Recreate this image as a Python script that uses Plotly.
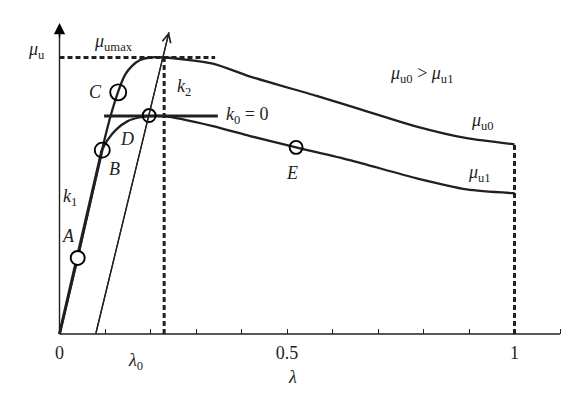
import plotly.graph_objects as go

# ---- data (lambda, mu) ----
upper_lam = [0, 0.040, 0.0934, 0.111, 0.1286, 0.144, 0.159, 0.177, 0.199, 0.230, 0.337, 0.419, 0.565, 0.660, 0.785, 0.895, 1.0]
upper_mu = [0, 0.275, 0.665, 0.781, 0.875, 0.937, 0.969, 0.991, 1.0, 1.0, 0.978, 0.931, 0.861, 0.813, 0.750, 0.708, 0.686]

lower_lam = [0.0934, 0.105, 0.125, 0.150, 0.175, 0.197, 0.230, 0.337, 0.419, 0.520, 0.638, 0.785, 0.895, 1.0]
lower_mu = [0.665, 0.700, 0.740, 0.770, 0.783, 0.788, 0.788, 0.752, 0.716, 0.675, 0.629, 0.563, 0.523, 0.509]

k1_lam = [0, 0.0934]
k1_mu = [0, 0.665]

k2_lam = [0.0796, 0.2407]
k2_mu = [0, 1.092]

k0_lam = [0.098, 0.348]
k0_mu = [0.788, 0.788]

yaxis_lam = [0, 0]
yaxis_mu = [0, 1.125]
xaxis_lam = [0, 1.1]
xaxis_mu = [0, 0]

mu_max = 1.0
lam_peak = 0.23
mu_u0_end = 0.686

point_names = ["A", "B", "C", "D", "E"]
point_lam = [0.040, 0.094, 0.129, 0.197, 0.520]
point_mu = [0.275, 0.665, 0.874, 0.790, 0.675]
point_size = [14, 15, 16, 13, 13]
point_fill = ["white", "rgba(0,0,0,0)", "rgba(0,0,0,0)", "rgba(0,0,0,0)", "rgba(0,0,0,0)"]

major_ticks = [0, 0.5, 1.0]
major_text = ["0", "0.5", "1"]
minor_ticks = [0.1, 0.2, 0.3, 0.4, 0.6, 0.7, 0.8, 0.9, 1.1]

FONT = "Liberation Serif"
BLK = "#231f20"

fig = go.Figure()

# axes lines
fig.add_trace(go.Scatter(x=xaxis_lam, y=xaxis_mu, mode="lines",
                         line=dict(color=BLK, width=1.5), hoverinfo="skip"))
fig.add_trace(go.Scatter(x=yaxis_lam, y=[yaxis_mu[0], yaxis_mu[1] - 0.03], mode="lines",
                         line=dict(color=BLK, width=1.4), hoverinfo="skip"))

# dashed guides
dash = "5px,3px"
fig.add_trace(go.Scatter(x=[0, 0.342], y=[mu_max, mu_max], mode="lines",
                         line=dict(color=BLK, width=3, dash=dash), hoverinfo="skip"))
fig.add_trace(go.Scatter(x=[lam_peak, lam_peak], y=[0, mu_max], mode="lines",
                         line=dict(color=BLK, width=3, dash=dash), hoverinfo="skip"))
fig.add_trace(go.Scatter(x=[1.0, 1.0], y=[0, mu_u0_end], mode="lines",
                         line=dict(color=BLK, width=3, dash=dash), hoverinfo="skip"))

# curves
fig.add_trace(go.Scatter(x=upper_lam, y=upper_mu, mode="lines",
                         line=dict(color=BLK, width=2.3, shape="spline", smoothing=0.7), hoverinfo="skip"))
fig.add_trace(go.Scatter(x=lower_lam, y=lower_mu, mode="lines",
                         line=dict(color=BLK, width=2.3, shape="spline", smoothing=0.7), hoverinfo="skip"))
fig.add_trace(go.Scatter(x=k1_lam, y=k1_mu, mode="lines",
                         line=dict(color=BLK, width=3), hoverinfo="skip"))
fig.add_trace(go.Scatter(x=k2_lam, y=k2_mu, mode="lines",
                         line=dict(color=BLK, width=1.3), hoverinfo="skip"))
fig.add_trace(go.Scatter(x=k0_lam, y=k0_mu, mode="lines",
                         line=dict(color=BLK, width=3), hoverinfo="skip"))

# circles
fig.add_trace(go.Scatter(x=point_lam, y=point_mu, mode="markers",
                         marker=dict(symbol="circle", size=point_size, color=point_fill,
                                     opacity=1, line=dict(color="#000000", width=1.9)),
                         hoverinfo="skip"))

# y-axis arrowhead (filled) and k2 arrowhead (open)
fig.add_annotation(x=yaxis_lam[1], y=yaxis_mu[1], ax=0, ay=16, xref="x", yref="y",
                   axref="pixel", ayref="pixel", showarrow=True, arrowhead=2,
                   arrowwidth=1.4, arrowsize=1.6, arrowcolor="#000000", text="")
fig.add_annotation(x=k2_lam[1], y=k2_mu[1], ax=k2_lam[0], ay=k2_mu[0], xref="x", yref="y",
                   axref="x", ayref="y", showarrow=True, arrowhead=5, arrowwidth=1.3,
                   arrowsize=1.3, arrowcolor=BLK, text="")

labels = [
    ("<i>μ</i><sub>u</sub>", -0.0495, 1.027),
    ("<i>μ</i><sub>umax</sub>", 0.1176, 1.056),
    ("<i>C</i>", 0.079, 0.875),
    ("<i>B</i>", 0.120, 0.597),
    ("<i>D</i>", 0.148, 0.705),
    ("<i>A</i>", 0.0187, 0.354),
    ("<i>k</i><sub>1</sub>", 0.023, 0.495),
    ("<i>k</i><sub>2</sub>", 0.274, 0.893),
    ("<i>k</i><sub>0</sub> = 0", 0.412, 0.792),
    ("<i>μ</i><sub>u0</sub> > <i>μ</i><sub>u1</sub>", 0.7945, 0.937),
    ("<i>μ</i><sub>u0</sub>", 0.9286, 0.770),
    ("<i>μ</i><sub>u1</sub>", 0.922, 0.582),
    ("<i>E</i>", 0.511, 0.582),
    ("<i>λ</i><sub>0</sub>", 0.168, -0.101),
    ("<i>λ</i>", 0.513, -0.156),
]
for txt, lx, ly in labels:
    fig.add_annotation(x=lx, y=ly, xref="x", yref="y", text=txt, showarrow=False,
                       font=dict(family=FONT, size=18, color=BLK))

fig.update_layout(
    width=574, height=398,
    margin=dict(l=0, r=0, t=0, b=0),
    paper_bgcolor="white", plot_bgcolor="white",
    showlegend=False,
    xaxis=dict(range=[-59.5 / 455, (574 - 59.5) / 455], showgrid=False, zeroline=False,
               showline=False, tickmode="array", tickvals=major_ticks, ticktext=major_text,
               ticks="inside", ticklen=5, tickwidth=1.3, tickcolor=BLK,
               tickfont=dict(family=FONT, size=18, color=BLK),
               minor=dict(tickmode="array", tickvals=minor_ticks, ticks="inside",
                          ticklen=5, tickwidth=1.3, tickcolor=BLK, showgrid=False),
               anchor="free", position=64 / 398, ticklabelstandoff=6),
    yaxis=dict(range=[-(398 - 334) / 276.5, 334 / 276.5], showgrid=False, zeroline=False,
               showline=False, showticklabels=False, ticks=""),
)

fig.write_html("out.html")
